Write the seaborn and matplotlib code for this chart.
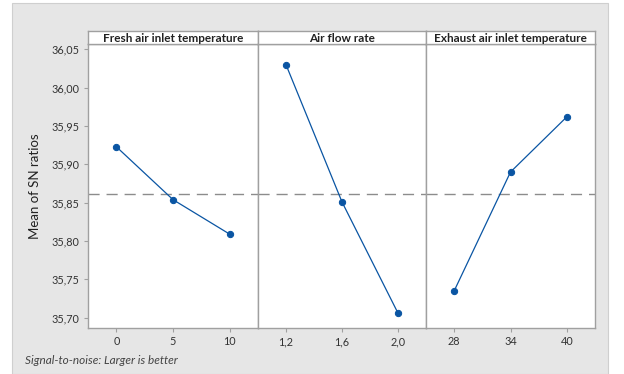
import matplotlib
matplotlib.use("Agg")
import matplotlib.pyplot as plt
from matplotlib.patches import Rectangle
from matplotlib.ticker import FuncFormatter
import seaborn as sns

# Main effects for SN ratios
factors = ["Fresh air inlet temperature", "Air flow rate", "Exhaust air inlet temperature"]
levels = [["0", "5", "10"], ["1,2", "1,6", "2,0"], ["28", "34", "40"]]
sn_means = [
    [35.923, 35.854, 35.809],
    [36.030, 35.851, 35.706],
    [35.735, 35.890, 35.962],
]
grand_mean = 35.862
y_ticks = [35.70, 35.75, 35.80, 35.85, 35.90, 35.95, 36.00, 36.05]

sns.set_style("white")
plt.rcParams["font.family"] = ["Lato", "DejaVu Sans"]

W, H = 624, 374
fig = plt.figure(figsize=(W / 100, H / 100), dpi=100)
fig.patch.set_facecolor("white")
# grey background panel like the Minitab graph window
fig.patches.append(Rectangle((12 / W, 0), (608 - 12) / W, 1 - 3 / H, transform=fig.transFigure,
                             facecolor="#e6e6e6", edgecolor="#cfcfcf", lw=0.8, zorder=-5))

border = "#a0a0a0"
blue = "#0a55a3"
lefts = [88, 258, 426]
rights = [258, 426, 595]
top, bottom, strip_top = 44, 328, 31

axes = []
for i in range(3):
    l, r = lefts[i], rights[i]
    ax = fig.add_axes([l / W, 1 - bottom / H, (r - l) / W, (bottom - top) / H])
    sax = fig.add_axes([l / W, 1 - top / H, (r - l) / W, (top - strip_top) / H])
    ax.set_facecolor("white")
    sax.set_facecolor("white")
    sax.set_xticks([])
    sax.set_yticks([])
    for s in sax.spines.values():
        s.set_color(border)
        s.set_linewidth(1.0)
    sax.text(0.5, 0.45, factors[i], ha="center", va="center", fontsize=8.5,
             fontweight="bold", color="#222222", transform=sax.transAxes)

    xs = list(range(len(levels[i])))
    ax.axhline(grand_mean, color="#8c8c8c", lw=1.0, dashes=(8, 5), zorder=1)
    sns.lineplot(x=xs, y=sn_means[i], ax=ax, color=blue, lw=0.9, marker="o",
                 markersize=4.5, markeredgecolor=blue, zorder=3)
    ax.set_xlim(-0.5, 2.5)
    ax.set_ylim(35.6866, 36.057)
    ax.set_xticks(xs)
    ax.set_xticklabels(levels[i])
    ax.set_yticks(y_ticks)
    ax.yaxis.set_major_formatter(FuncFormatter(lambda v, p: f"{v:.2f}".replace(".", ",")))
    ax.tick_params(axis="both", labelsize=7.8, colors=border, labelcolor="#333333",
                   length=3, width=0.8, direction="out", pad=3)
    ax.tick_params(axis="both", bottom=True, left=(i == 0))
    if i > 0:
        ax.set_yticklabels([])
    for s in ax.spines.values():
        s.set_color(border)
        s.set_linewidth(1.0)
    axes.append(ax)

axes[0].set_ylabel("Mean of SN ratios", fontsize=9.5, color="#222222", labelpad=8)
fig.text(25 / W, 1 - 361 / H, "Signal-to-noise: Larger is better", fontsize=8.5,
         style="italic", color="#444444", va="center")

fig.savefig("out.png", dpi=100, facecolor=fig.get_facecolor())
